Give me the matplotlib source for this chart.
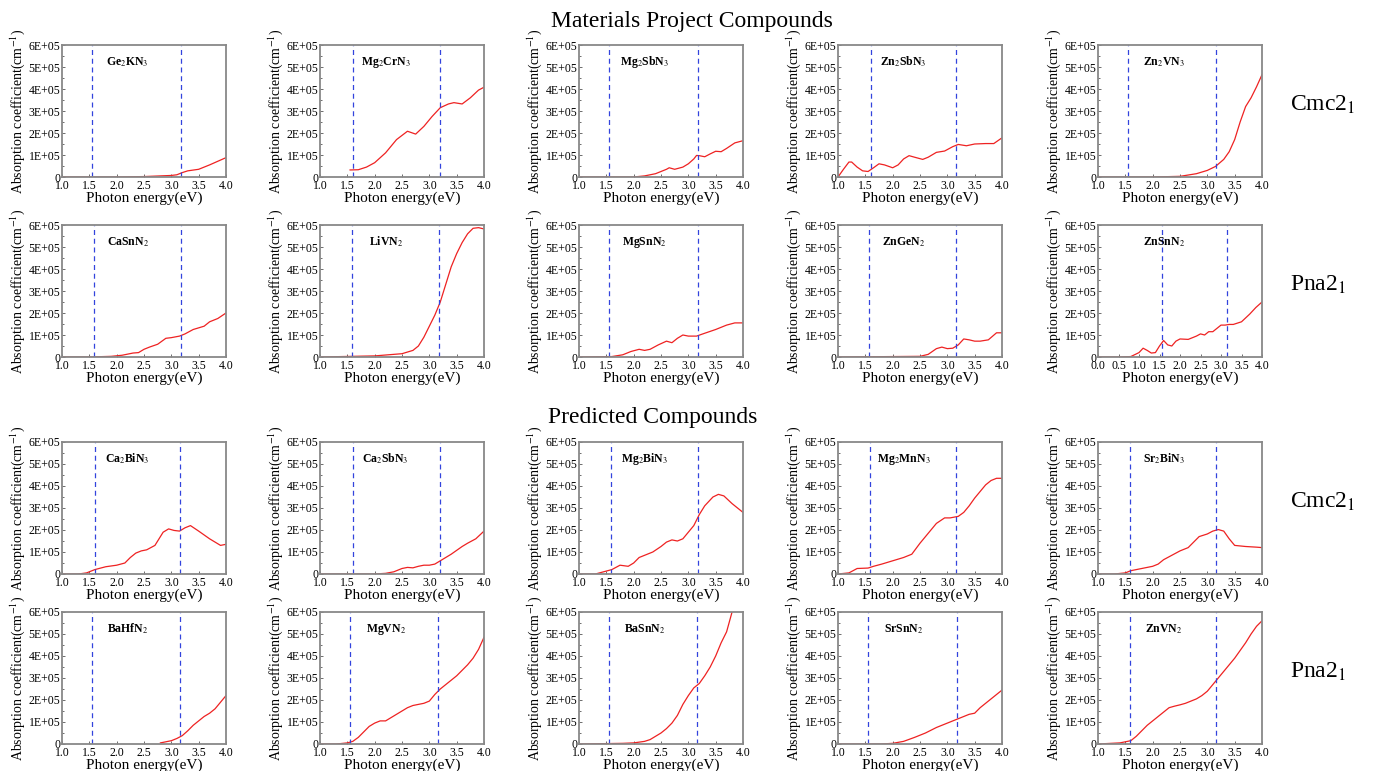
import numpy as np
import matplotlib.pyplot as plt
from matplotlib.ticker import MultipleLocator

plt.rcParams['font.family'] = ['Liberation Serif', 'DejaVu Serif']
plt.rcParams['mathtext.fontset'] = 'stix'

# absorption values in units of 1E+05 cm^-1
names = [
    ['Ge$_2$KN$_3$', 'Mg$_2$CrN$_3$', 'Mg$_2$SbN$_3$', 'Zn$_2$SbN$_3$', 'Zn$_2$VN$_3$'],
    ['CaSnN$_2$', 'LiVN$_2$', 'MgSnN$_2$', 'ZnGeN$_2$', 'ZnSnN$_2$'],
    ['Ca$_2$BiN$_3$', 'Ca$_2$SbN$_3$', 'Mg$_2$BiN$_3$', 'Mg$_2$MnN$_3$', 'Sr$_2$BiN$_3$'],
    ['BaHfN$_2$', 'MgVN$_2$', 'BaSnN$_2$', 'SrSnN$_2$', 'ZnVN$_2$'],
]

# row 1: Materials Project, Cmc2_1
ge2kn3_x = [1.0, 1.5, 2.0, 2.5, 2.8, 3.0, 3.1, 3.2, 3.3, 3.5, 3.7, 4.0]
ge2kn3_y = [0, 0, 0, 0.02, 0.05, 0.07, 0.1, 0.2, 0.28, 0.35, 0.55, 0.88]
mg2crn3_x = [1.55, 1.7, 1.85, 2.0, 2.2, 2.4, 2.6, 2.75, 2.9, 3.05, 3.2, 3.35, 3.45, 3.6, 3.75, 3.9, 4.0]
mg2crn3_y = [0.32, 0.33, 0.45, 0.65, 1.1, 1.7, 2.08, 1.95, 2.3, 2.75, 3.15, 3.32, 3.38, 3.32, 3.6, 3.95, 4.08]
mg2sbn3_x = [1.0, 2.0, 2.2, 2.4, 2.5, 2.6, 2.65, 2.75, 2.9, 3.0, 3.1, 3.15, 3.2, 3.3, 3.4, 3.5, 3.6, 3.7, 3.85, 4.0]
mg2sbn3_y = [0, 0, 0.05, 0.15, 0.25, 0.35, 0.42, 0.35, 0.45, 0.6, 0.82, 0.98, 0.97, 0.92, 1.05, 1.17, 1.15, 1.3, 1.55, 1.65]
zn2sbn3_x = [1.0, 1.1, 1.2, 1.25, 1.35, 1.45, 1.55, 1.65, 1.75, 1.85, 2.0, 2.1, 2.2, 2.3, 2.4, 2.55, 2.65,
             2.8, 2.95, 3.1, 3.2, 3.35, 3.5, 3.7, 3.85, 4.0]
zn2sbn3_y = [0, 0.35, 0.68, 0.68, 0.45, 0.28, 0.25, 0.42, 0.6, 0.55, 0.42, 0.55, 0.82, 0.97, 0.9, 0.8, 0.9,
             1.12, 1.18, 1.38, 1.48, 1.42, 1.5, 1.52, 1.52, 1.78]
zn2vn3_x = [1.0, 2.0, 2.5, 2.8, 3.0, 3.15, 3.3, 3.4, 3.5, 3.6, 3.7, 3.8, 3.9, 4.0]
zn2vn3_y = [0, 0, 0.03, 0.15, 0.3, 0.48, 0.8, 1.15, 1.7, 2.5, 3.2, 3.6, 4.1, 4.65]

# row 2: Materials Project, Pna2_1
casnn2_x = [1.0, 1.5, 1.9, 2.1, 2.3, 2.4, 2.5, 2.6, 2.75, 2.9, 3.0, 3.15, 3.25, 3.4, 3.6, 3.7, 3.85, 4.0]
casnn2_y = [0, 0, 0.03, 0.08, 0.18, 0.2, 0.35, 0.45, 0.58, 0.85, 0.88, 0.95, 1.05, 1.25, 1.4, 1.6, 1.75, 2.0]
livn2_x = [1.0, 2.0, 2.5, 2.7, 2.8, 2.9, 3.0, 3.1, 3.2, 3.3, 3.4, 3.5, 3.6, 3.7, 3.8, 3.9, 4.0]
livn2_y = [0, 0.05, 0.15, 0.3, 0.5, 0.9, 1.4, 1.9, 2.5, 3.3, 4.1, 4.7, 5.2, 5.6, 5.85, 5.88, 5.82]
mgsnn2_x = [1.0, 1.6, 1.8, 1.95, 2.1, 2.2, 2.3, 2.45, 2.6, 2.7, 2.8, 2.9, 3.0, 3.15, 3.3, 3.5, 3.7, 3.85, 4.0]
mgsnn2_y = [0, 0.02, 0.1, 0.25, 0.35, 0.3, 0.35, 0.55, 0.72, 0.65, 0.85, 1.0, 0.95, 0.95, 1.08, 1.25, 1.45, 1.55, 1.55]
zngen2_x = [1.0, 2.5, 2.65, 2.8, 2.9, 3.0, 3.1, 3.2, 3.3, 3.4, 3.5, 3.6, 3.75, 3.9, 4.0]
zngen2_y = [0, 0.03, 0.12, 0.38, 0.45, 0.38, 0.4, 0.55, 0.82, 0.78, 0.72, 0.72, 0.78, 1.1, 1.1]
znsnn2_x = [0.0, 0.5, 0.8, 1.0, 1.1, 1.2, 1.3, 1.4, 1.5, 1.6, 1.7, 1.8, 1.9, 2.0, 2.2, 2.4, 2.5, 2.6, 2.7,
            2.8, 2.9, 3.0, 3.1, 3.2, 3.3, 3.5, 3.7, 3.85, 4.0]
znsnn2_y = [0, 0, 0.02, 0.2, 0.4, 0.3, 0.18, 0.2, 0.5, 0.75, 0.55, 0.5, 0.72, 0.82, 0.8, 0.95, 1.05, 1.0, 1.15,
            1.15, 1.3, 1.45, 1.45, 1.48, 1.48, 1.6, 1.95, 2.25, 2.5]

# row 3: predicted, Cmc2_1
ca2bin3_x = [1.0, 1.3, 1.45, 1.6, 1.8, 2.0, 2.15, 2.25, 2.35, 2.45, 2.55, 2.7, 2.85, 2.95, 3.05, 3.15, 3.25,
             3.35, 3.5, 3.7, 3.9, 4.0]
ca2bin3_y = [0, 0, 0.05, 0.2, 0.33, 0.4, 0.5, 0.75, 0.95, 1.05, 1.1, 1.3, 1.9, 2.05, 1.98, 1.95, 2.1,
             2.2, 1.95, 1.6, 1.3, 1.35]
ca2sbn3_x = [1.0, 2.0, 2.2, 2.35, 2.5, 2.6, 2.7, 2.8, 2.9, 3.0, 3.1, 3.2, 3.4, 3.6, 3.7, 3.85, 4.0]
ca2sbn3_y = [0, 0, 0.03, 0.1, 0.25, 0.3, 0.28, 0.35, 0.4, 0.4, 0.45, 0.6, 0.9, 1.25, 1.4, 1.6, 1.95]
mg2bin3_x = [1.0, 1.3, 1.45, 1.6, 1.75, 1.9, 2.0, 2.1, 2.2, 2.35, 2.5, 2.6, 2.7, 2.8, 2.9, 3.0, 3.1, 3.2,
             3.3, 3.45, 3.55, 3.65, 3.8, 4.0]
mg2bin3_y = [0, 0, 0.1, 0.2, 0.4, 0.35, 0.5, 0.75, 0.85, 1.0, 1.25, 1.45, 1.55, 1.5, 1.6, 1.9, 2.2, 2.7,
             3.1, 3.5, 3.62, 3.55, 3.2, 2.8]
mg2mnn3_x = [1.0, 1.2, 1.35, 1.55, 1.65, 1.8, 2.0, 2.2, 2.35, 2.5, 2.65, 2.8, 2.95, 3.05, 3.2, 3.3, 3.4,
             3.5, 3.6, 3.7, 3.8, 3.9, 4.0]
mg2mnn3_y = [0, 0.05, 0.25, 0.27, 0.35, 0.45, 0.6, 0.75, 0.9, 1.4, 1.85, 2.3, 2.55, 2.55, 2.62, 2.8, 3.1,
             3.45, 3.75, 4.05, 4.25, 4.35, 4.35]
sr2bin3_x = [1.0, 1.3, 1.5, 1.6, 1.8, 2.0, 2.1, 2.2, 2.35, 2.5, 2.65, 2.75, 2.85, 3.0, 3.1, 3.2, 3.3, 3.4,
             3.5, 3.7, 3.9, 4.0]
sr2bin3_y = [0, 0, 0.05, 0.15, 0.25, 0.35, 0.45, 0.65, 0.85, 1.05, 1.2, 1.45, 1.7, 1.82, 1.95, 2.02, 1.95, 1.6,
             1.3, 1.25, 1.22, 1.2]

# row 4: predicted, Pna2_1
bahfn2_x = [2.8, 2.9, 3.0, 3.1, 3.2, 3.3, 3.4, 3.5, 3.6, 3.7, 3.8, 3.9, 4.0]
bahfn2_y = [0.05, 0.1, 0.15, 0.25, 0.38, 0.6, 0.85, 1.05, 1.25, 1.4, 1.6, 1.9, 2.2]
mgvn2_x = [1.0, 1.3, 1.5, 1.6, 1.7, 1.8, 1.9, 2.0, 2.1, 2.2, 2.3, 2.4, 2.5, 2.6, 2.7, 2.8, 2.9, 3.0, 3.1,
           3.2, 3.3, 3.4, 3.5, 3.6, 3.7, 3.8, 3.9, 4.0]
mgvn2_y = [0, 0, 0.05, 0.12, 0.3, 0.55, 0.8, 0.95, 1.05, 1.05, 1.2, 1.35, 1.5, 1.65, 1.75, 1.8, 1.85, 1.95, 2.25,
           2.5, 2.7, 2.9, 3.1, 3.35, 3.6, 3.9, 4.3, 4.85]
basnn2_x = [1.0, 1.8, 2.0, 2.2, 2.3, 2.4, 2.5, 2.6, 2.7, 2.8, 2.9, 3.0, 3.1, 3.2, 3.3, 3.4, 3.5, 3.6, 3.7, 3.8]
basnn2_y = [0, 0.03, 0.05, 0.12, 0.2, 0.35, 0.5, 0.7, 0.95, 1.3, 1.8, 2.2, 2.55, 2.75, 3.1, 3.5, 4.0, 4.6, 5.1, 6.0]
srsnn2_x = [1.0, 1.8, 2.0, 2.2, 2.4, 2.6, 2.8, 3.0, 3.2, 3.4, 3.5, 3.6, 3.7, 3.8, 3.9, 4.0]
srsnn2_y = [0, 0, 0.03, 0.12, 0.3, 0.5, 0.75, 0.95, 1.15, 1.35, 1.4, 1.65, 1.85, 2.05, 2.25, 2.45]
znvn2_x = [1.0, 1.4, 1.6, 1.7, 1.8, 1.9, 2.0, 2.1, 2.2, 2.3, 2.4, 2.5, 2.6, 2.7, 2.8, 2.9, 3.0, 3.1, 3.2,
           3.3, 3.4, 3.5, 3.6, 3.7, 3.8, 3.9, 4.0]
znvn2_y = [0, 0.05, 0.15, 0.35, 0.6, 0.85, 1.05, 1.25, 1.45, 1.65, 1.72, 1.78, 1.85, 1.95, 2.05, 2.2, 2.4, 2.7, 3.0,
           3.3, 3.6, 3.9, 4.25, 4.6, 5.0, 5.35, 5.6]

curves = [
    [(ge2kn3_x, ge2kn3_y), (mg2crn3_x, mg2crn3_y), (mg2sbn3_x, mg2sbn3_y), (zn2sbn3_x, zn2sbn3_y), (zn2vn3_x, zn2vn3_y)],
    [(casnn2_x, casnn2_y), (livn2_x, livn2_y), (mgsnn2_x, mgsnn2_y), (zngen2_x, zngen2_y), (znsnn2_x, znsnn2_y)],
    [(ca2bin3_x, ca2bin3_y), (ca2sbn3_x, ca2sbn3_y), (mg2bin3_x, mg2bin3_y), (mg2mnn3_x, mg2mnn3_y), (sr2bin3_x, sr2bin3_y)],
    [(bahfn2_x, bahfn2_y), (mgvn2_x, mgvn2_y), (basnn2_x, basnn2_y), (srsnn2_x, srsnn2_y), (znvn2_x, znvn2_y)],
]

# visible-range markers (eV)
vlines = [
    [(1.55, 3.17), (1.6, 3.2), (1.55, 3.17), (1.6, 3.15), (1.55, 3.15)],
    [(1.58, 3.17), (1.58, 3.18), (1.55, 3.17), (1.57, 3.15), (1.55, 3.15)],
    [(1.6, 3.15), (1.6, 3.2), (1.58, 3.17), (1.58, 3.15), (1.58, 3.15)],
    [(1.55, 3.15), (1.55, 3.15), (1.55, 3.15), (1.55, 3.18), (1.58, 3.15)],
]

ytick_vals = [0, 1, 2, 3, 4, 5, 6]
ytick_labels = ['0', '1E+05', '2E+05', '3E+05', '4E+05', '5E+05', '6E+05']
row_labels = ['Cmc2$_1$', 'Pna2$_1$', 'Cmc2$_1$', 'Pna2$_1$']

W, H = 1373, 771
fig = plt.figure(figsize=(W / 100, H / 100), dpi=100)

col_left = [62, 320, 579, 838, 1098]
row_top = [45, 225, 442, 612]
aw, ah = 164, 132

for r in range(4):
    for c in range(5):
        ax = fig.add_axes([col_left[c] / W, 1 - (row_top[r] + ah) / H, aw / W, ah / H])
        x, y = curves[r][c]
        ax.plot(x, y, color='#ee2222', lw=0.9)
        for v in vlines[r][c]:
            ax.axvline(v, color='#3344dd', ls=(0, (4, 3)), lw=0.9)
        if r == 1 and c == 4:
            ax.set_xlim(0, 4)
        else:
            ax.set_xlim(1, 4)
        ax.set_ylim(0, 6)
        ax.xaxis.set_major_locator(MultipleLocator(0.5))
        ax.set_yticks(ytick_vals)
        ax.set_yticklabels(ytick_labels)
        ax.yaxis.set_minor_locator(MultipleLocator(0.5))
        ax.tick_params(which='both', direction='in', labelsize=8.5, length=2.5, width=0.6,
                       colors='#555555', labelcolor='black', pad=1)
        ax.tick_params(axis='x', pad=2.5)
        ax.tick_params(which='minor', length=1.5)
        for s in ax.spines.values():
            s.set_color('#888888')
            s.set_linewidth(1.3)
        ax.set_xlabel('Photon energy(eV)', fontsize=11, labelpad=-1)
        ax.set_ylabel('Absorption coefficient(cm$^{-1}$)', fontsize=10, labelpad=1)
        ax.text(0.4, 0.87, names[r][c], transform=ax.transAxes, ha='center', va='center',
                fontsize=8.5, fontweight='bold')
        if c == 4:
            ax.text(1.17, 0.55, row_labels[r], transform=ax.transAxes, ha='left', va='center',
                    fontsize=17)

fig.text(692 / W, 1 - 22 / H, 'Materials Project Compounds', ha='center', va='center', fontsize=17)
fig.text(653 / W, 1 - 418 / H, 'Predicted Compounds', ha='center', va='center', fontsize=17)

fig.savefig('out.png', dpi=100)
